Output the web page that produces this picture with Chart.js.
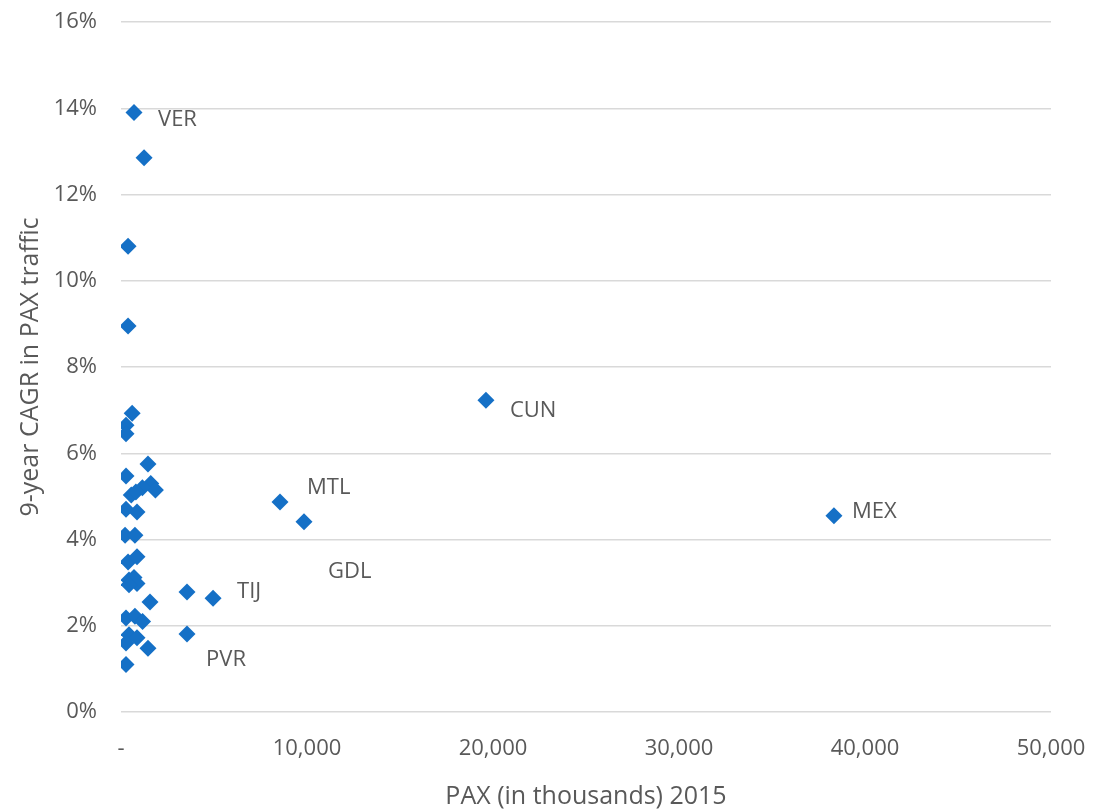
<!DOCTYPE html>
<html>
<head>
<meta charset="utf-8">
<script src="https://cdn.jsdelivr.net/npm/chart.js@4"></script>
<style>
  html, body { margin: 0; padding: 0; background: #fff; }
  #wrap { width: 1094px; height: 812px; }
</style>
</head>
<body>
<div id="wrap"><canvas id="chart1"></canvas></div>
<script>
// PAX 2015 (thousands) and 9-year CAGR (%) per airport
let pax = [700, 1240, 380, 380, 600, 270, 270, 1450, 270, 1600, 1850, 1150, 550, 800,
  270, 860, 220, 750, 380, 860, 430, 700, 860, 430, 1560, 270, 750, 1160, 430, 860,
  270, 1450, 270, 3550, 4950, 3550, 8550, 9840, 19620, 38330]
let cagr = [13.9, 12.85, 10.8, 8.95, 6.93, 6.65, 6.45, 5.75, 5.47, 5.3, 5.15, 5.2, 5.03, 5.1,
  4.7, 4.64, 4.1, 4.1, 3.48, 3.6, 3.06, 3.12, 2.98, 2.95, 2.55, 2.18, 2.22, 2.1, 1.79, 1.72,
  1.6, 1.48, 1.1, 2.78, 2.64, 1.81, 4.87, 4.41, 7.23, 4.55]
let codes = ['VER', '', '', '', '', '', '', '', '', '', '', '', '', '',
  '', '', '', '', '', '', '', '', '', '', '', '', '', '', '', '',
  '', '', '', '', 'TIJ', 'PVR', 'MTL', 'GDL', 'CUN', 'MEX']

let xTicks = [0, 10000, 20000, 30000, 40000, 50000]
let yTicks = [0, 2, 4, 6, 8, 10, 12, 14, 16]

// where each label sits next to its point (px)
let labelOffsets = {
  VER: [24, 7], CUN: [24, 11], MTL: [27, -14], GDL: [24, 50],
  TIJ: [24, -6], PVR: [19, 26], MEX: [18, -4]
}

let points = pax.map((v, i) => ({ x: v, y: cagr[i] }))

let pointLabels = {
  id: 'pointLabels',
  afterDatasetsDraw(chart) {
    let ctx = chart.ctx
    let meta = chart.getDatasetMeta(0)
    ctx.save()
    ctx.font = '22px "Open Sans"'
    ctx.fillStyle = '#595959'
    ctx.textBaseline = 'middle'
    ctx.textAlign = 'left'
    meta.data.forEach((el, i) => {
      let code = codes[i]
      if (!code) return
      let off = labelOffsets[code] || [20, 0]
      ctx.fillText(code, el.x + off[0], el.y + off[1])
    })
    ctx.restore()
  }
}

new Chart(document.getElementById('chart1'), {
  type: 'scatter',
  data: {
    datasets: [{
      label: 'Airports',
      data: points,
      pointStyle: 'rectRot',
      pointRadius: 8.5,
      pointHoverRadius: 8.5,
      backgroundColor: '#1570c6',
      borderColor: '#1570c6',
      borderWidth: 0
    }]
  },
  options: {
    responsive: true,
    maintainAspectRatio: false,
    animation: false,
    layout: { padding: { top: 22, right: 43, bottom: 0, left: 0 } },
    plugins: {
      legend: { display: false },
      tooltip: { enabled: false }
    },
    scales: {
      x: {
        type: 'linear',
        min: 0,
        max: 50000,
        afterBuildTicks: (scale) => { scale.ticks = xTicks.map(v => ({ value: v })) },
        afterFit: (scale) => {
          scale.height = 100
          scale.paddingLeft = 0
          scale.paddingRight = 0
        },
        grid: { display: false, drawTicks: false },
        border: { display: false },
        ticks: {
          padding: 24,
          color: '#595959',
          font: { family: 'Open Sans', size: 22 },
          callback: (v) => v === 0 ? '-' : v.toLocaleString('en-US')
        },
        title: {
          display: true,
          text: 'PAX (in thousands) 2015',
          color: '#595959',
          font: { family: 'Open Sans', size: 25 },
          padding: { top: 10, bottom: 0 }
        }
      },
      y: {
        type: 'linear',
        min: 0,
        max: 16,
        afterBuildTicks: (scale) => { scale.ticks = yTicks.map(v => ({ value: v })) },
        afterFit: (scale) => {
          scale.width = 121
          scale.paddingTop = 0
          scale.paddingBottom = 0
        },
        grid: { color: '#d9d9d9', lineWidth: 1.5, drawTicks: false },
        border: { display: false },
        ticks: {
          padding: 24,
          color: '#595959',
          font: { family: 'Open Sans', size: 22 },
          callback: (v) => v + '%'
        },
        title: {
          display: true,
          text: '9-year CAGR in PAX traffic',
          color: '#595959',
          font: { family: 'Open Sans', size: 25 },
          padding: { top: 16, bottom: 0 }
        }
      }
    }
  },
  plugins: [pointLabels]
})
</script>
</body>
</html>
